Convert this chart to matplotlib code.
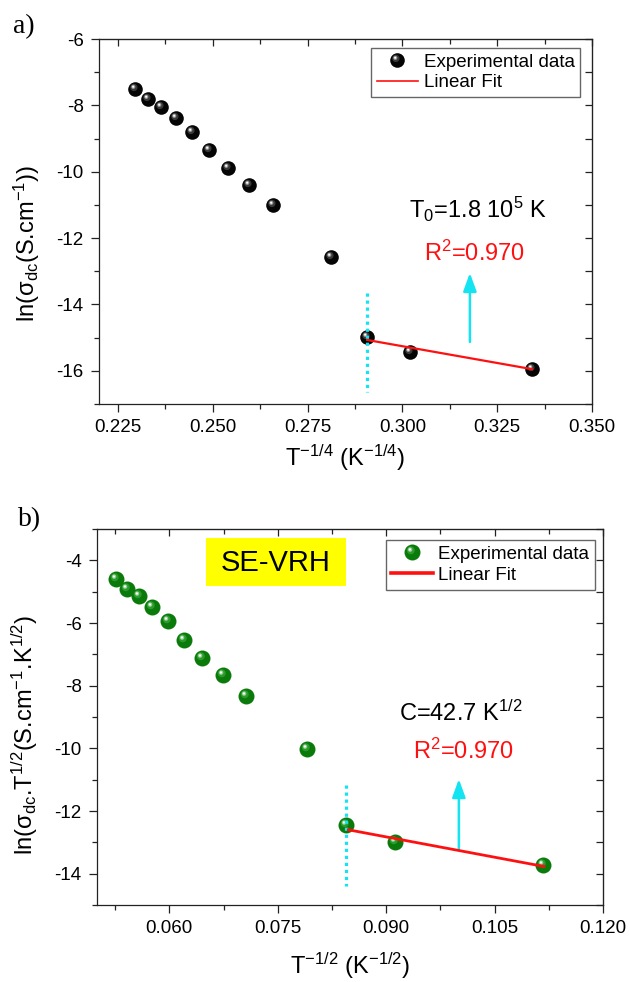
import numpy as np
import matplotlib
matplotlib.use('Agg')
import matplotlib.pyplot as plt
from matplotlib.path import Path
from matplotlib.lines import Line2D
from matplotlib.legend_handler import HandlerTuple
from matplotlib.patches import Rectangle
from matplotlib.ticker import MultipleLocator

plt.rcParams['font.family'] = ['Liberation Sans', 'DejaVu Sans']
plt.rcParams['mathtext.fontset'] = 'custom'
plt.rcParams['mathtext.rm'] = 'Liberation Sans'
plt.rcParams['mathtext.it'] = 'Liberation Sans'
plt.rcParams['mathtext.default'] = 'regular'
plt.rcParams['axes.unicode_minus'] = False

# ---- panel a) Mott VRH, ln(sigma) vs T^-1/4
x_a = [0.2294, 0.2328, 0.2363, 0.2402, 0.2445, 0.2490, 0.2541, 0.2596,
       0.2659, 0.2812, 0.2907, 0.3020, 0.3342]
y_a = [-7.52, -7.82, -8.04, -8.37, -8.80, -9.35, -9.89, -10.40,
       -11.00, -12.57, -14.98, -15.43, -15.95]
fit_x_a = [0.2907, 0.3342]
fit_y_a = [-15.07, -15.95]
cut_x_a = [0.2907, 0.2907]
cut_y_a = [-13.65, -16.65]

# ---- panel b) ES VRH, ln(sigma T^1/2) vs T^-1/2
x_b = [0.05267, 0.05417, 0.05583, 0.05767, 0.05978, 0.0620, 0.0645, 0.06739,
       0.07067, 0.0790, 0.08444, 0.09128, 0.11167]
y_b = [-4.60, -4.90, -5.15, -5.49, -5.95, -6.53, -7.12, -7.67,
       -8.32, -10.01, -12.46, -12.99, -13.71]
fit_x_b = [0.08478, 0.11183]
fit_y_b = [-12.60, -13.77]
cut_x_b = [0.08444, 0.08444]
cut_y_b = [-11.16, -14.40]

CYAN = '#14e4f2'
RED = '#ff1010'


def spot(cx, cy, r):
    # highlight disc inside the unit marker box, keeps offset from centre
    frame = Path([[-1, -1], [1, 1]], [Path.MOVETO, Path.MOVETO])
    return Path.make_compound_path(frame, Path.circle((cx, cy), r))


def ball_layers(base, mid, light):
    return [(base, 'o'),
            (mid, spot(-0.22, 0.28, 0.5)),
            (light, spot(-0.30, 0.36, 0.28)),
            ('white', spot(-0.32, 0.38, 0.14))]


def draw_balls(ax, x, y, layers, ms):
    lines = []
    for color, marker in layers:
        ln, = ax.plot(x, y, ls='none', marker=marker, ms=ms, mfc=color,
                      mec='none', zorder=3)
        lines.append(ln)
    return tuple(lines)


def style_axes(ax, xmaj, xmin, ymaj, ymin):
    for s in ax.spines.values():
        s.set_linewidth(0.9)
        s.set_color('#222222')
    ax.xaxis.set_major_locator(MultipleLocator(xmaj))
    ax.xaxis.set_minor_locator(MultipleLocator(xmin))
    ax.yaxis.set_major_locator(MultipleLocator(ymaj))
    ax.yaxis.set_minor_locator(MultipleLocator(ymin))
    ax.tick_params(which='both', direction='out', width=0.9, color='#222222',
                   labelsize=13.5, pad=5)
    ax.tick_params(which='major', length=6)
    ax.tick_params(which='minor', length=3.5)
    top = ax.secondary_xaxis('top')
    top.xaxis.set_major_locator(MultipleLocator(xmaj))
    top.xaxis.set_minor_locator(MultipleLocator(xmin))
    top.tick_params(which='both', direction='in', labeltop=False, width=0.9,
                    color='#222222')
    top.tick_params(which='major', length=5)
    top.tick_params(which='minor', length=3.5)
    right = ax.secondary_yaxis('right')
    right.yaxis.set_major_locator(MultipleLocator(ymaj))
    right.yaxis.set_minor_locator(MultipleLocator(ymin))
    right.tick_params(which='both', direction='in', labelright=False, width=0.9,
                      color='#222222')
    right.tick_params(which='major', length=5)
    right.tick_params(which='minor', length=5)


fig = plt.figure(figsize=(6.3, 9.82), dpi=100)
ax1 = fig.add_axes([99 / 630, 1 - 404 / 982, 493 / 630, 365 / 982])
ax2 = fig.add_axes([97 / 630, 1 - 905 / 982, 506 / 630, 376 / 982])

# ---------------- a)
balls_a = draw_balls(ax1, x_a, y_a, ball_layers('#050505', '#3a3a3a', '#9a9a9a'), 10.5)
ax1.plot(cut_x_a, cut_y_a, color=CYAN, lw=2.3, ls=(0, (1, 1.2)), zorder=4)
fit_a, = ax1.plot(fit_x_a, fit_y_a, color=RED, lw=1.6, zorder=5)
ax1.annotate('', xy=(0.3178, -13.05), xytext=(0.3178, -15.13),
             arrowprops=dict(arrowstyle='-|>,head_length=0.55,head_width=0.2',
                             color=CYAN, lw=1.8, mutation_scale=20,
                             shrinkA=0, shrinkB=0))
ax1.text(0.3199, -11.15, 'T$_0$=1.8 10$^5$ K', fontsize=17, ha='center', va='center')
ax1.text(0.3191, -12.45, 'R$^2$=0.970', fontsize=17, color=RED, ha='center', va='center')

ax1.set_xlim(0.22, 0.35)
ax1.set_ylim(-17, -6)
style_axes(ax1, 0.025, 0.0125, 2, 1)
ax1.set_xlabel('T$^{-1/4}$ (K$^{-1/4}$)', fontsize=17)
ax1.set_ylabel('ln(σ$_{dc}$(S.cm$^{-1}$))', fontsize=17)
ax1.xaxis.set_label_coords(0.5, -0.105)
ax1.yaxis.set_label_coords(-0.116, 0.44)

leg_fit_a = Line2D([], [], color=RED, lw=1.2)
leg1 = ax1.legend([balls_a, leg_fit_a], ['Experimental data', 'Linear Fit'],
                  handler_map={tuple: HandlerTuple(ndivide=1, pad=0)},
                  loc='upper right', bbox_to_anchor=(0.976, 0.976), fontsize=13.5,
                  fancybox=False, edgecolor='#666666', framealpha=1,
                  borderpad=0.3, labelspacing=0.2, handlelength=2.2,
                  handletextpad=0.3, borderaxespad=0)
leg1.get_frame().set_linewidth(1.0)

# ---------------- b)
balls_b = draw_balls(ax2, x_b, y_b, ball_layers('#0a7a0a', '#2c9a2c', '#8fd08f'), 11.5)
ax2.plot(cut_x_b, cut_y_b, color=CYAN, lw=2.3, ls=(0, (1, 1.2)), zorder=4)
fit_b, = ax2.plot(fit_x_b, fit_y_b, color=RED, lw=2.0, zorder=5)
ax2.annotate('', xy=(0.10006, -10.98), xytext=(0.10006, -13.23),
             arrowprops=dict(arrowstyle='-|>,head_length=0.55,head_width=0.2',
                             color=CYAN, lw=1.8, mutation_scale=20,
                             shrinkA=0, shrinkB=0))
ax2.text(0.1003, -8.89, 'C=42.7 K$^{1/2}$', fontsize=17, ha='center', va='center')
ax2.text(0.1007, -10.09, 'R$^2$=0.970', fontsize=17, color=RED, ha='center', va='center')
ax2.add_patch(Rectangle((0.0651, -4.83), 0.0193, 1.54, facecolor='#ffff00',
                        edgecolor='none', zorder=2))
ax2.text(0.07475, -4.09, 'SE-VRH', fontsize=21, ha='center', va='center', zorder=3)

ax2.set_xlim(0.05, 0.12)
ax2.set_ylim(-15, -3)
style_axes(ax2, 0.015, 0.0075, 2, 1)
ax2.set_xticks([0.060, 0.075, 0.090, 0.105, 0.120])
ax2.set_xticklabels(['0.060', '0.075', '0.090', '0.105', '0.120'])
ax2.set_xlabel('T$^{-1/2}$ (K$^{-1/2}$)', fontsize=17)
ax2.set_ylabel('ln(σ$_{dc}$.T$^{1/2}$(S.cm$^{-1}$.K$^{1/2}$)', fontsize=17)
ax2.xaxis.set_label_coords(0.5, -0.122)
ax2.yaxis.set_label_coords(-0.113, 0.452)

leg_fit_b = Line2D([], [], color=RED, lw=2.6)
leg2 = ax2.legend([balls_b, leg_fit_b], ['Experimental data', 'Linear Fit'],
                  handler_map={tuple: HandlerTuple(ndivide=1, pad=0)},
                  loc='upper right', bbox_to_anchor=(0.984, 0.970), fontsize=13.5,
                  fancybox=False, edgecolor='#666666', framealpha=1,
                  borderpad=0.3, labelspacing=0.2, handlelength=2.2,
                  handletextpad=0.3, borderaxespad=0)
leg2.get_frame().set_linewidth(1.0)

fig.text(13 / 630, 1 - 33 / 982, 'a)', fontsize=20, family='Liberation Serif', va='baseline')
fig.text(18 / 630, 1 - 526 / 982, 'b)', fontsize=20, family='Liberation Serif', va='baseline')

fig.savefig('out.png', dpi=100)
